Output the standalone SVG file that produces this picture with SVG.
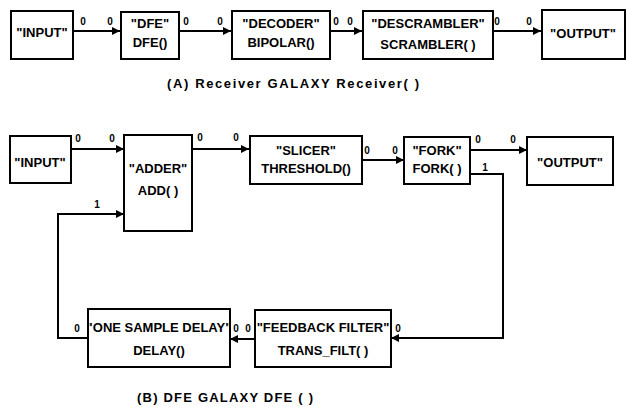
<svg xmlns="http://www.w3.org/2000/svg" width="628" height="407" viewBox="0 0 628 407">
<style>
  .box{fill:#fff;stroke:#000;stroke-width:2}
  .t{font-family:"Liberation Sans",Arial,sans-serif;font-weight:bold;font-size:13px;fill:#000;text-anchor:middle}
  .p{font-family:"Liberation Sans",Arial,sans-serif;font-weight:bold;font-size:10px;fill:#000;text-anchor:middle}
  .cap{font-family:"Liberation Sans",Arial,sans-serif;font-weight:bold;font-size:13px;fill:#000}
  .w{fill:none;stroke:#000;stroke-width:2}
</style>
<defs>
  <marker id="ah" viewBox="0 0 10 10" refX="10" refY="5" markerWidth="4" markerHeight="4" orient="auto">
    <path d="M0,0 L10,5 L0,10 z" fill="#000"/>
  </marker>
</defs>
<rect width="628" height="407" fill="#fff"/>

<g id="connectors">
  <path class="w" d="M73,31 H120" marker-end="url(#ah)"/>
  <path class="w" d="M179,31 H231" marker-end="url(#ah)"/>
  <path class="w" d="M330,31 H362" marker-end="url(#ah)"/>
  <path class="w" d="M493,31 H541" marker-end="url(#ah)"/>
  <path class="w" d="M71,149 H124" marker-end="url(#ah)"/>
  <path class="w" d="M192,149 H249" marker-end="url(#ah)"/>
  <path class="w" d="M362,160 H404" marker-end="url(#ah)"/>
  <path class="w" d="M470,150 H527" marker-end="url(#ah)"/>
  <path class="w" d="M470,174 H503 V338 H391" marker-end="url(#ah)"/>
  <path class="w" d="M255,339 H230" marker-end="url(#ah)"/>
  <path class="w" d="M88,338 H58 V214 H124" marker-end="url(#ah)"/>
</g>

<g id="ports">
  <text class="p" x="83" y="25">0</text>
  <text class="p" x="110" y="25">0</text>
  <text class="p" x="186" y="25">0</text>
  <text class="p" x="220" y="25">0</text>
  <text class="p" x="336" y="25">0</text>
  <text class="p" x="350" y="25">0</text>
  <text class="p" x="497" y="25">0</text>
  <text class="p" x="529" y="25">0</text>
  <text class="p" x="78" y="142">0</text>
  <text class="p" x="112" y="142">0</text>
  <text class="p" x="200" y="141">0</text>
  <text class="p" x="236" y="141">0</text>
  <text class="p" x="367" y="154">0</text>
  <text class="p" x="395" y="154">0</text>
  <text class="p" x="478" y="143">0</text>
  <text class="p" x="513" y="143">0</text>
  <text class="p" x="485" y="171">1</text>
  <text class="p" x="97" y="208">1</text>
  <text class="p" x="77" y="332">0</text>
  <text class="p" x="236" y="332">0</text>
  <text class="p" x="248" y="332">0</text>
  <text class="p" x="398" y="332">0</text>
</g>

<g id="a_input">
  <rect class="box" x="11" y="11" width="62" height="48"/>
  <text class="t" x="42" y="37">"INPUT"</text>
</g>
<g id="a_dfe">
  <rect class="box" x="121" y="12" width="58" height="47"/>
  <text class="t" x="150" y="28">"DFE"</text>
  <text class="t" x="150" y="47">DFE()</text>
</g>
<g id="a_decoder">
  <rect class="box" x="232" y="11" width="98" height="48"/>
  <text class="t" x="281" y="28">"DECODER"</text>
  <text class="t" x="281" y="47">BIPOLAR()</text>
</g>
<g id="a_descrambler">
  <rect class="box" x="363" y="11" width="130" height="48"/>
  <text class="t" x="428" y="28">"DESCRAMBLER"</text>
  <text class="t" x="428" y="49">SCRAMBLER( )</text>
</g>
<g id="a_output">
  <rect class="box" x="542" y="10" width="83" height="49"/>
  <text class="t" x="583" y="38">"OUTPUT"</text>
</g>
<text class="cap" x="167" y="88" textLength="252" lengthAdjust="spacing">(A)  Receiver GALAXY Receiver( )</text>

<g id="b_input">
  <rect class="box" x="10" y="136" width="61" height="47"/>
  <text class="t" x="40" y="167">"INPUT"</text>
</g>
<g id="b_adder">
  <rect class="box" x="124" y="135" width="68" height="96"/>
  <text class="t" x="158" y="173">"ADDER"</text>
  <text class="t" x="158" y="195">ADD( )</text>
</g>
<g id="b_slicer">
  <rect class="box" x="250" y="136" width="112" height="48"/>
  <text class="t" x="306" y="155">"SLICER"</text>
  <text class="t" x="306" y="173">THRESHOLD()</text>
</g>
<g id="b_fork">
  <rect class="box" x="404" y="137" width="66" height="47"/>
  <text class="t" x="437" y="155">"FORK"</text>
  <text class="t" x="437" y="173">FORK( )</text>
</g>
<g id="b_output">
  <rect class="box" x="527" y="137" width="86" height="48"/>
  <text class="t" x="570" y="167">"OUTPUT"</text>
</g>
<g id="b_delay">
  <rect class="box" x="88" y="309" width="142" height="58"/>
  <text class="t" x="159" y="332">"ONE SAMPLE DELAY"</text>
  <text class="t" x="159" y="355">DELAY()</text>
</g>
<g id="b_feedback">
  <rect class="box" x="255" y="310" width="136" height="57"/>
  <text class="t" x="323" y="332">"FEEDBACK FILTER"</text>
  <text class="t" x="323" y="355">TRANS_FILT( )</text>
</g>
<text class="cap" x="137" y="402" textLength="176" lengthAdjust="spacing">(B)  DFE GALAXY DFE ( )</text>
</svg>
